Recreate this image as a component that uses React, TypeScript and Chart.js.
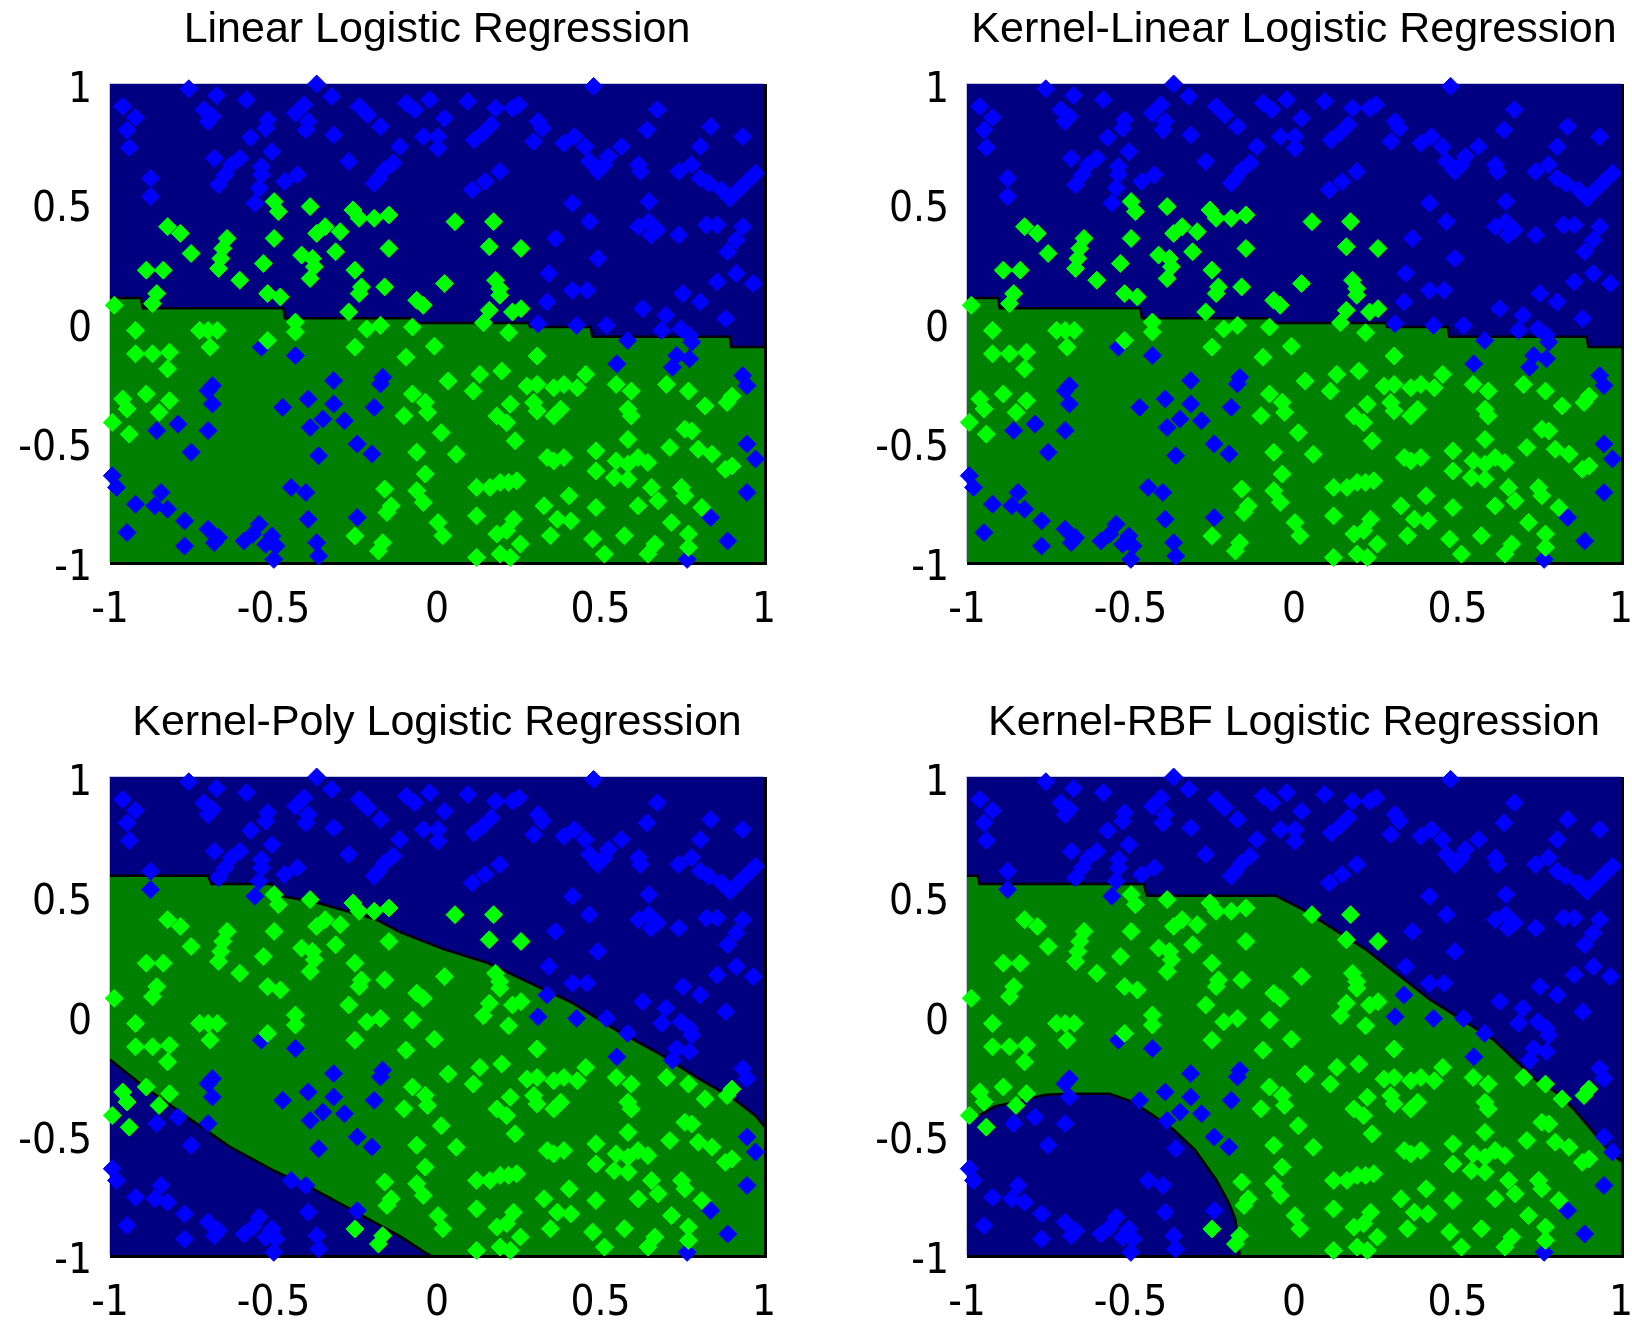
import React, { useEffect, useRef } from 'react';
import { Chart, registerables } from 'chart.js';

Chart.register(...registerables);

// ---------- data ----------
const titles = [
  'Linear Logistic Regression',
  'Kernel-Linear Logistic Regression',
  'Kernel-Poly Logistic Regression',
  'Kernel-RBF Logistic Regression',
];

const xTickLabels = ['-1', '-0.5', '0', '0.5', '1'];
const yTickLabels = ['-1', '-0.5', '0', '0.5', '1'];

const bluePoints: number[][] = [
  [-0.759, 0.98], [-0.368, 1.0], [0.479, 0.99], [-0.674, 0.952], [-0.583, 0.934], [-0.961, 0.906], [-0.922, 0.86], [-0.948, 0.808], [-0.941, 0.734],
  [-0.713, 0.892], [-0.687, 0.864], [-0.7, 0.843],
  [-0.518, 0.85], [-0.524, 0.815], [-0.57, 0.776],
  [-0.433, 0.878], [-0.407, 0.913], [-0.394, 0.843], [-0.401, 0.808],
  [-0.322, 0.948], [-0.316, 0.787],
  [-0.238, 0.906], [-0.212, 0.871], [-0.173, 0.822],
  [-0.094, 0.92], [-0.068, 0.892], [-0.023, 0.934],
  [-0.042, 0.78], [0.003, 0.78], [0.003, 0.731], [-0.114, 0.738], [0.023, 0.857], [0.094, 0.927],
  [0.179, 0.899], [0.231, 0.899], [0.25, 0.913], [0.166, 0.829], [0.14, 0.794], [0.114, 0.766],
  [0.309, 0.843], [0.322, 0.815], [0.296, 0.759],
  [0.388, 0.752], [0.42, 0.78], [0.453, 0.738], [0.564, 0.738], [0.642, 0.808], [0.674, 0.892], [0.837, 0.822], [0.935, 0.78], [0.805, 0.738],
  [-0.681, 0.689], [-0.629, 0.662], [-0.648, 0.62], [-0.668, 0.578], [-0.603, 0.689],
  [-0.537, 0.655], [-0.537, 0.62], [-0.544, 0.564], [-0.505, 0.717], [-0.427, 0.62], [-0.466, 0.592], [-0.27, 0.676],
  [-0.876, 0.606], [-0.876, 0.529], [-0.557, 0.501],
  [-0.134, 0.669], [-0.16, 0.641], [-0.179, 0.606], [-0.192, 0.585],
  [0.192, 0.634], [0.147, 0.592], [0.108, 0.557],
  [0.466, 0.676], [0.492, 0.634], [0.511, 0.662], [0.524, 0.697],
  [0.616, 0.662], [0.622, 0.634],
  [0.739, 0.634], [0.778, 0.662], [0.805, 0.606], [0.831, 0.585],
  [0.87, 0.557], [0.896, 0.522], [0.922, 0.557], [0.948, 0.592], [0.974, 0.627],
  [0.648, 0.508], [0.414, 0.501], [0.466, 0.424],
  [0.616, 0.403], [0.648, 0.424], [0.674, 0.389], [0.655, 0.368], [0.739, 0.368], [0.824, 0.41], [0.857, 0.41],
  [0.935, 0.403], [0.915, 0.347], [0.889, 0.298],
  [0.362, 0.354], [0.492, 0.27], [0.342, 0.207],
  [0.857, 0.172], [0.915, 0.207], [0.967, 0.165],
  [0.414, 0.137], [0.459, 0.137], [0.336, 0.088], [0.752, 0.123], [0.805, 0.088], [0.629, 0.06], [0.7, 0.032], [0.883, 0.018],
  [0.309, -0.003], [0.427, -0.01], [0.518, -0.01],
  [0.687, -0.031], [0.746, -0.024], [0.772, -0.052], [0.779, -0.08], [0.583, -0.073],
  [0.733, -0.136], [0.772, -0.15], [0.72, -0.185], [0.55, -0.171],
  [0.935, -0.22], [0.948, -0.262],
  [-0.537, -0.101], [-0.433, -0.136],
  [-0.687, -0.262], [-0.7, -0.283], [-0.687, -0.339],
  [-0.792, -0.423], [-0.857, -0.45], [-0.7, -0.45], [-0.752, -0.541],
  [-0.316, -0.241], [-0.166, -0.227], [-0.173, -0.255],
  [-0.394, -0.318], [-0.316, -0.339], [-0.472, -0.353], [-0.192, -0.353],
  [-0.349, -0.402], [-0.388, -0.437], [-0.283, -0.409],
  [-0.244, -0.506], [-0.199, -0.548], [-0.362, -0.555],
  [-0.993, -0.639], [-0.98, -0.688], [-0.922, -0.758], [-0.863, -0.765], [-0.824, -0.779], [-0.844, -0.709],
  [-0.772, -0.828], [-0.948, -0.877], [-0.772, -0.933],
  [-0.7, -0.863], [-0.668, -0.898], [-0.681, -0.919],
  [-0.446, -0.688], [-0.401, -0.709], [-0.394, -0.821],
  [-0.59, -0.912], [-0.564, -0.884], [-0.544, -0.842], [-0.524, -0.926], [-0.505, -0.891], [-0.492, -0.933], [-0.499, -0.989],
  [-0.368, -0.919], [-0.362, -0.975], [-0.244, -0.814],
  [0.948, -0.506], [0.974, -0.569], [0.948, -0.709], [0.837, -0.814], [0.889, -0.912], [0.765, -0.989],
];

const greenPoints: number[][] = [
  [-0.498, 0.508], [-0.485, 0.466], [-0.388, 0.487], [-0.257, 0.473], [-0.238, 0.438], [-0.192, 0.438], [-0.147, 0.452], [0.055, 0.424], [0.173, 0.424],
  [-0.824, 0.403], [-0.785, 0.375], [-0.342, 0.403], [-0.368, 0.375], [-0.296, 0.382], [-0.498, 0.354],
  [-0.642, 0.354], [-0.655, 0.312], [-0.661, 0.27], [-0.668, 0.228], [-0.752, 0.291],
  [-0.414, 0.284], [-0.381, 0.27], [-0.375, 0.235], [-0.388, 0.186], [-0.31, 0.298], [-0.147, 0.312], [0.16, 0.319], [0.257, 0.312],
  [-0.531, 0.249], [-0.889, 0.221], [-0.837, 0.221], [-0.251, 0.221], [-0.603, 0.179],
  [-0.231, 0.151], [-0.238, 0.123], [-0.16, 0.151], [0.023, 0.165], [0.179, 0.179], [0.192, 0.144], [0.192, 0.116],
  [-0.857, 0.123], [-0.87, 0.081], [-0.518, 0.123], [-0.479, 0.109], [-0.062, 0.095], [-0.042, 0.074], [-0.987, 0.074], [-0.27, 0.046],
  [0.16, 0.053], [0.231, 0.046], [0.257, 0.06],
  [-0.433, 0.004], [-0.433, -0.038], [-0.075, -0.017], [-0.173, -0.01], [-0.215, -0.025],
  [-0.922, -0.031], [-0.726, -0.031], [-0.7, -0.031], [-0.672, -0.031], [-0.518, -0.073], [-0.694, -0.101], [-0.251, -0.101],
  [-0.922, -0.129], [-0.87, -0.129], [-0.818, -0.122], [-0.824, -0.192], [-0.095, -0.143],
  [-0.961, -0.318], [-0.948, -0.36], [-0.993, -0.416], [-0.941, -0.465], [-0.889, -0.297], [-0.818, -0.325], [-0.85, -0.374],
  [-0.075, -0.297], [-0.036, -0.332], [-0.029, -0.374], [-0.101, -0.388],
  [-0.062, -0.541], [-0.036, -0.632], [-0.062, -0.702], [-0.042, -0.751],
  [-0.16, -0.695], [-0.14, -0.765], [-0.153, -0.793],
  [-0.251, -0.891], [-0.166, -0.919], [-0.179, -0.954],
  [0.142, 0.001], [0.219, -0.041], [-0.008, -0.097], [0.306, -0.138], [0.131, -0.215], [0.198, -0.201], [0.034, -0.243], [0.111, -0.285],
  [0.275, -0.264], [0.306, -0.257], [0.357, -0.271], [0.388, -0.257], [0.429, -0.271], [0.455, -0.215], [0.548, -0.257], [0.594, -0.285],
  [0.702, -0.257], [0.769, -0.285], [0.82, -0.347], [0.887, -0.333], [0.902, -0.306], [0.224, -0.34], [0.296, -0.333], [0.306, -0.368],
  [0.378, -0.361], [0.357, -0.389], [0.183, -0.389], [0.213, -0.417], [0.584, -0.361], [0.594, -0.389], [0.013, -0.459], [0.239, -0.493],
  [0.758, -0.445], [0.779, -0.452], [0.584, -0.487], [0.059, -0.549], [0.337, -0.563], [0.357, -0.577], [0.388, -0.563], [0.486, -0.535],
  [0.548, -0.577], [0.584, -0.591], [0.615, -0.563], [0.645, -0.584], [0.712, -0.521], [0.799, -0.528], [0.841, -0.549], [0.882, -0.612],
  [0.902, -0.598], [0.486, -0.619], [0.542, -0.647], [0.584, -0.654], [0.121, -0.688], [0.162, -0.688], [0.193, -0.667], [0.219, -0.667],
  [0.244, -0.66], [0.404, -0.723], [0.656, -0.688], [0.676, -0.744], [0.748, -0.688], [0.758, -0.723], [0.327, -0.765], [0.486, -0.772],
  [0.615, -0.765], [0.81, -0.772], [0.121, -0.807], [0.003, -0.835], [0.018, -0.89], [0.234, -0.821], [0.368, -0.821], [0.409, -0.828],
  [0.183, -0.883], [0.213, -0.869], [0.255, -0.925], [0.347, -0.89], [0.476, -0.904], [0.573, -0.89], [0.666, -0.925], [0.717, -0.835],
  [0.769, -0.883], [0.121, -0.981], [0.193, -0.967], [0.224, -0.981], [0.512, -0.967], [0.645, -0.967], [0.769, -0.939],
];

const linearBoundary: number[][] = [
  [-1, 0.105], [-0.905, 0.105], [-0.9, 0.062], [-0.47, 0.062], [-0.465, 0.02], [-0.08, 0.02], [-0.075, 0.0],
  [0.28, 0.0], [0.285, -0.017], [0.47, -0.017], [0.475, -0.058], [0.895, -0.058], [0.9, -0.1], [1, -0.1],
];

const polyUpper: number[][] = [
  [-1, 0.587], [-0.7, 0.587], [-0.69, 0.552], [-0.505, 0.552], [-0.49, 0.506], [-0.373, 0.476], [-0.19, 0.406],
  [-0.111, 0.35], [0.02, 0.28], [0.151, 0.224], [0.282, 0.14], [0.413, 0.056], [0.544, -0.056], [0.675, -0.154],
  [0.806, -0.266], [0.911, -0.35], [0.976, -0.42], [1, -0.462],
];

const polyLower: number[][] = [
  [-1, -0.182], [-0.898, -0.294], [-0.767, -0.42], [-0.636, -0.545], [-0.505, -0.643], [-0.373, -0.727],
  [-0.243, -0.825], [-0.111, -0.923], [-0.033, -0.993], [-0.02, -1],
];

const rbfUpper: number[][] = [
  [-1, 0.587], [-0.967, 0.587], [-0.962, 0.552], [-0.459, 0.552], [-0.45, 0.503], [-0.055, 0.503], [0.023, 0.448],
  [0.088, 0.392], [0.153, 0.336], [0.218, 0.28], [0.283, 0.21], [0.349, 0.14], [0.414, 0.07], [0.479, 0.014],
  [0.544, -0.042], [0.609, -0.098], [0.674, -0.182], [0.739, -0.266], [0.805, -0.322], [0.857, -0.392],
  [0.909, -0.476], [0.961, -0.56], [1, -0.608],
];

const rbfLower: number[][] = [
  [-1, -0.427], [-0.967, -0.42], [-0.915, -0.378], [-0.824, -0.35], [-0.759, -0.329], [-0.694, -0.325],
  [-0.564, -0.325], [-0.498, -0.357], [-0.433, -0.413], [-0.368, -0.476], [-0.303, -0.56], [-0.238, -0.685],
  [-0.199, -0.783], [-0.179, -0.853], [-0.173, -0.923], [-0.166, -1],
];

// ---------- styles ----------
const NAVY = '#000080';
const DARKGREEN = '#008000';
const BLUE = '#0000ff';
const LIME = '#00ff00';
const TITLE_FONT = "'Liberation Sans', Arial, Helvetica, sans-serif";
const TICK_FONT = "'Liberation Sans Narrow', 'DejaVu Sans Condensed', 'Liberation Sans', sans-serif";

const toXY = (arr: number[][]) => arr.map(([x, y]) => ({ x, y }));

const panelBg = {
  id: 'panelBg',
  beforeDraw(chart: any) {
    const { ctx, chartArea: a } = chart;
    ctx.save();
    ctx.fillStyle = NAVY;
    ctx.fillRect(a.left, a.top, a.right - a.left, a.bottom - a.top);
    ctx.fillStyle = '#000';
    ctx.fillRect(a.left, a.bottom, a.right - a.left + 3, 3);
    ctx.fillRect(a.right, a.top, 3, a.bottom - a.top + 3);
    ctx.fillStyle = '#c4c4e0';
    ctx.fillRect(a.left - 1, a.top - 1, a.right - a.left + 1, 1);
    ctx.fillRect(a.left - 1, a.top - 1, 1, a.bottom - a.top + 1);
    ctx.restore();
  },
};

type Region = { points: number[][]; fill: string };

const CW = 800;
const CH = 627;

function Panel(props: { title: string; regions: Region[]; left: number; top: number; rightPad: number }) {
  const ref = useRef<HTMLCanvasElement | null>(null);
  useEffect(() => {
    const n = props.regions.length;
    const regionSets = props.regions.map((r, i) => ({
      type: 'line' as const,
      data: toXY(r.points),
      borderColor: '#000',
      borderWidth: 2.5,
      backgroundColor: r.fill,
      fill: 'start',
      pointRadius: 0,
      tension: 0,
      order: 2 + (n - 1 - i),
    }));
    const chart = new Chart(ref.current as HTMLCanvasElement, {
      type: 'scatter',
      data: {
        datasets: [
          {
            data: toXY(greenPoints),
            backgroundColor: LIME,
            borderColor: LIME,
            borderWidth: 1,
            pointStyle: 'rectRot',
            pointRadius: 9,
            order: 0,
            clip: false,
          } as any,
          {
            data: toXY(bluePoints),
            backgroundColor: BLUE,
            borderColor: BLUE,
            borderWidth: 1,
            pointStyle: 'rectRot',
            pointRadius: 9,
            order: 1,
            clip: false,
          } as any,
          ...(regionSets as any[]),
        ],
      },
      options: {
        animation: false,
        responsive: false,
        devicePixelRatio: 1,
        events: [],
        layout: { padding: { left: 0, top: 0, right: props.rightPad, bottom: 0 } },
        plugins: {
          legend: { display: false },
          tooltip: { enabled: false },
          title: {
            display: true,
            fullSize: false,
            text: props.title,
            color: '#000',
            font: { family: TITLE_FONT, size: 43, weight: 'normal' },
            padding: { top: 4, bottom: 28.4 },
          },
        },
        scales: {
          x: {
            type: 'linear',
            min: -1,
            max: 1,
            grid: { display: false, drawTicks: false },
            border: { display: false },
            ticks: {
              stepSize: 0.5,
              autoSkip: false,
              maxRotation: 0,
              padding: 24,
              color: '#000',
              font: { family: TICK_FONT, size: 42 },
              callback: (_v: any, i: number) => xTickLabels[i],
            },
            afterFit: (s: any) => {
              s.height = 65;
            },
          },
          y: {
            type: 'linear',
            min: -1,
            max: 1,
            grid: { display: false, drawTicks: false },
            border: { display: false },
            ticks: {
              stepSize: 0.5,
              autoSkip: false,
              padding: 18,
              labelOffset: 7,
              color: '#000',
              font: { family: TICK_FONT, size: 42 },
              callback: (_v: any, i: number) => yTickLabels[i],
            },
            afterFit: (s: any) => {
              s.width = 110;
            },
          },
        },
      } as any,
      plugins: [panelBg],
    });
    return () => chart.destroy();
  }, []);
  return (
    <canvas
      ref={ref}
      width={CW}
      height={CH}
      style={{ position: 'absolute', left: props.left, top: props.top, width: CW, height: CH }}
    />
  );
}

export default function App() {
  return (
    <div
      style={{
        position: 'absolute',
        left: 0,
        top: 0,
        width: 1632,
        height: 1320,
        overflow: 'hidden',
        background: '#fff',
      }}
    >
      <Panel title={titles[0]} regions={[{ points: linearBoundary, fill: DARKGREEN }]} left={0} top={0} rightPad={35} />
      <Panel title={titles[1]} regions={[{ points: linearBoundary, fill: DARKGREEN }]} left={857} top={0} rightPad={32} />
      <Panel
        title={titles[2]}
        regions={[
          { points: polyUpper, fill: DARKGREEN },
          { points: polyLower, fill: NAVY },
        ]}
        left={0}
        top={693}
        rightPad={35}
      />
      <Panel
        title={titles[3]}
        regions={[
          { points: rbfUpper, fill: DARKGREEN },
          { points: rbfLower, fill: NAVY },
        ]}
        left={857}
        top={693}
        rightPad={32}
      />
    </div>
  );
}
